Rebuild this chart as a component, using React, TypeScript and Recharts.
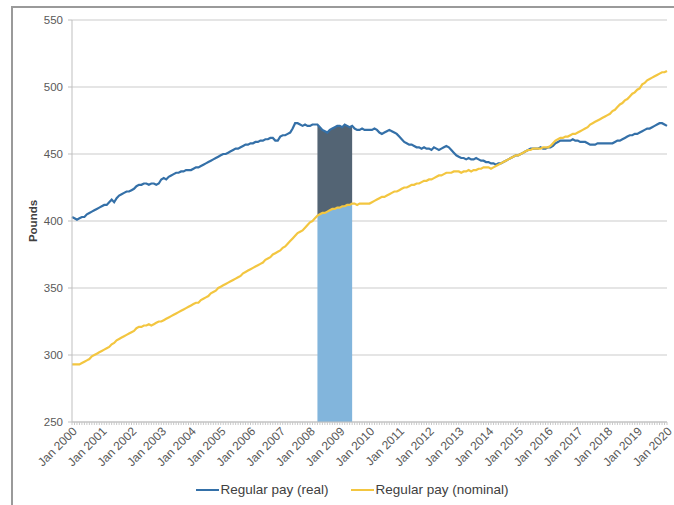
import { ComposedChart, Line, Area, XAxis, YAxis, CartesianGrid, Legend } from "recharts";

const MONTH_NAMES = ["Jan", "Feb", "Mar", "Apr", "May", "Jun", "Jul", "Aug", "Sep", "Oct", "Nov", "Dec"];
const FIRST_YEAR = 2000;

// monthly values, one row per year (Jan 2000 .. Jan 2020)
const realPay = [
  [403, 402, 401, 402, 403, 403, 405, 406, 407, 408, 409, 410],
  [411, 412, 412, 414, 416, 414, 417, 419, 420, 421, 422, 422],
  [423, 424, 426, 427, 427, 428, 428, 427, 428, 428, 427, 428],
  [431, 432, 431, 433, 434, 435, 436, 436, 437, 437, 438, 438],
  [438, 439, 440, 440, 441, 442, 443, 444, 445, 446, 447, 448],
  [449, 450, 450, 451, 452, 453, 454, 454, 455, 456, 457, 457],
  [458, 458, 459, 459, 460, 460, 461, 461, 462, 462, 460, 460],
  [463, 464, 464, 465, 466, 469, 473, 473, 472, 471, 472, 471],
  [471, 472, 472, 472, 470, 468, 467, 466, 468, 469, 470, 471],
  [471, 470, 472, 471, 470, 471, 469, 468, 468, 469, 468, 468],
  [468, 468, 469, 468, 466, 465, 466, 467, 468, 467, 466, 465],
  [463, 461, 459, 458, 457, 457, 456, 455, 455, 454, 455, 454],
  [454, 453, 455, 454, 453, 454, 455, 456, 455, 453, 451, 449],
  [448, 447, 447, 446, 447, 446, 446, 447, 446, 445, 445, 444],
  [444, 443, 443, 442, 443, 443, 444, 445, 446, 447, 448, 449],
  [449, 450, 451, 452, 453, 454, 454, 454, 454, 455, 454, 454],
  [455, 455, 456, 458, 459, 460, 460, 460, 460, 460, 461, 460],
  [460, 459, 459, 459, 458, 457, 457, 457, 458, 458, 458, 458],
  [458, 458, 458, 459, 460, 460, 461, 462, 463, 464, 464, 465],
  [465, 466, 467, 468, 469, 469, 470, 471, 472, 473, 473, 472],
  [471],
];

const nominalPay = [
  [293, 293, 293, 293, 294, 295, 296, 297, 299, 300, 301, 302],
  [303, 304, 305, 306, 308, 309, 311, 312, 313, 314, 315, 316],
  [317, 318, 320, 321, 321, 322, 322, 323, 322, 323, 324, 325],
  [325, 326, 327, 328, 329, 330, 331, 332, 333, 334, 335, 336],
  [337, 338, 339, 339, 341, 342, 343, 344, 346, 347, 348, 350],
  [351, 352, 353, 354, 355, 356, 357, 358, 359, 361, 362, 363],
  [364, 365, 366, 367, 368, 369, 371, 372, 373, 375, 376, 377],
  [378, 380, 381, 383, 385, 387, 389, 391, 392, 393, 395, 397],
  [399, 400, 402, 404, 405, 406, 406, 407, 408, 409, 409, 410],
  [410, 411, 411, 412, 412, 413, 413, 412, 413, 413, 413, 413],
  [413, 414, 415, 416, 417, 418, 418, 419, 420, 421, 422, 422],
  [423, 424, 425, 425, 426, 427, 427, 428, 428, 429, 430, 430],
  [431, 431, 432, 433, 434, 434, 435, 436, 436, 436, 437, 437],
  [437, 436, 437, 437, 438, 437, 438, 438, 439, 439, 440, 440],
  [440, 439, 440, 441, 442, 443, 444, 445, 446, 447, 448, 449],
  [449, 450, 451, 452, 453, 453, 454, 454, 454, 454, 455, 455],
  [455, 456, 458, 460, 461, 462, 462, 463, 463, 464, 465, 465],
  [466, 467, 468, 469, 470, 472, 473, 474, 475, 476, 477, 478],
  [479, 480, 482, 483, 485, 487, 488, 490, 491, 493, 495, 496],
  [498, 499, 502, 503, 505, 506, 507, 508, 509, 510, 511, 511],
  [512],
];

const Y_TICKS = [250, 300, 350, 400, 450, 500, 550];
const RECESSION = ["Apr 2008", "Jun 2009"];
const LEGEND_ORDER = ["real", "nominal"];

const REAL_COLOR = "#3470a8";
const NOMINAL_COLOR = "#f3c640";
const TEXT_COLOR = "#595959";

const realFlat = realPay.flat();
const nominalFlat = nominalPay.flat();
const months = realFlat.map((_, i) => `${MONTH_NAMES[i % 12]} ${FIRST_YEAR + Math.floor(i / 12)}`);
const bandFrom = months.indexOf(RECESSION[0]);
const bandTo = months.indexOf(RECESSION[1]);

const data = months.map((month, i) => {
  const inBand = i >= bandFrom && i <= bandTo;
  return {
    month,
    real: realFlat[i],
    nominal: nominalFlat[i],
    lower: inBand ? [Y_TICKS[0], nominalFlat[i]] : null,
    upper: inBand ? [nominalFlat[i], realFlat[i]] : null,
  };
});

function MonthTick({ x, y, payload }: any) {
  if (!String(payload.value).startsWith("Jan")) return null;
  return (
    <g transform={`translate(${x},${y})`}>
      <text x={-1} y={0} dy={9} textAnchor="end" transform="rotate(-45)" fontSize={12} fill={TEXT_COLOR}>
        {payload.value}
      </text>
    </g>
  );
}

function PayLegend({ payload }: any) {
  const items = LEGEND_ORDER.map((key) => (payload || []).find((p: any) => p.dataKey === key)).filter(Boolean);
  return (
    <div style={{ display: "flex", justifyContent: "center", gap: 22, paddingLeft: 9, paddingTop: 2, fontSize: 13.5, color: "#404040" }}>
      {items.map((entry: any) => (
        <span key={entry.value} style={{ display: "flex", alignItems: "center" }}>
          <span style={{ display: "inline-block", width: 23, height: 2, background: entry.color, marginRight: 2 }} />
          {entry.value}
        </span>
      ))}
    </div>
  );
}

export default function App() {
  return (
    <div style={{ position: "absolute", left: 0, top: 0, width: 674, height: 505, background: "#fff", fontFamily: "'Liberation Sans', Arial, sans-serif" }}>
      <div style={{ position: "absolute", left: 11, top: 6, width: 663, height: 499, borderTop: "2px solid #9a9a9a", borderLeft: "2px solid #9a9a9a" }} />
      <ComposedChart width={674} height={505} data={data} margin={{ top: 20, right: 7, bottom: 5, left: 28 }}>
        <CartesianGrid vertical={false} stroke="#dcdcdc" strokeWidth={1.5} />
        <XAxis
          dataKey="month"
          interval={0}
          tick={MonthTick}
          tickSize={3}
          tickMargin={0}
          height={58}
          stroke="#bfbfbf"
          tickLine={{ stroke: "#c8c8c8" }}
        />
        <YAxis
          domain={[250, 550]}
          ticks={Y_TICKS}
          width={44}
          tickSize={4}
          tickMargin={5}
          stroke="#bfbfbf"
          tick={{ fill: TEXT_COLOR, fontSize: 11.5 }}
          label={{ value: "Pounds", angle: -90, position: "insideLeft", offset: 5, style: { textAnchor: "middle", fontWeight: "bold", fontSize: 11.5, fill: "#404040" } }}
        />
        <Area dataKey="lower" type="linear" stroke="none" fill="#82b5dc" fillOpacity={1} legendType="none" isAnimationActive={false} />
        <Area dataKey="upper" type="linear" stroke="none" fill="#536474" fillOpacity={1} legendType="none" isAnimationActive={false} />
        <Line dataKey="real" name="Regular pay (real)" type="linear" stroke={REAL_COLOR} strokeWidth={2.2} dot={false} activeDot={false} isAnimationActive={false} />
        <Line dataKey="nominal" name="Regular pay (nominal)" type="linear" stroke={NOMINAL_COLOR} strokeWidth={2.2} dot={false} activeDot={false} isAnimationActive={false} />
        <Legend verticalAlign="bottom" height={20} content={PayLegend} />
      </ComposedChart>
    </div>
  );
}
